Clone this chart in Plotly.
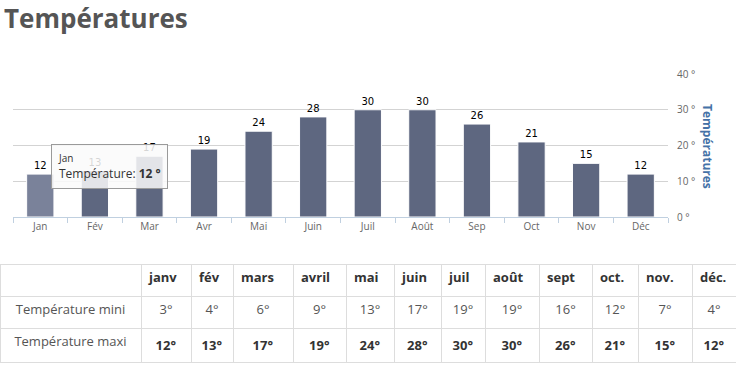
import plotly.graph_objects as go

# ---- data ----
months_axis = ["Jan", "Fév", "Mar", "Avr", "Mai", "Juin", "Juil", "Août", "Sep", "Oct", "Nov", "Déc"]
months_table = ["janv", "fév", "mars", "avril", "mai", "juin", "juil", "août", "sept", "oct.", "nov.", "déc."]
temp_maxi = [12, 13, 17, 19, 24, 28, 30, 30, 26, 21, 15, 12]
temp_mini = [3, 4, 6, 9, 13, 17, 19, 19, 16, 12, 7, 4]
row_labels = ["Température mini", "Température maxi"]
chart_title = "Températures"
axis_title = "Températures"
series_name = "Température"
hover_index = 0

W, H = 736, 366

bar_color = "#5E6780"
hover_color = "#7A829A"
colors = [hover_color if i == hover_index else bar_color for i in range(len(months_axis))]

fig = go.Figure()

fig.add_trace(go.Bar(
    x=months_axis,
    y=temp_maxi,
    name=series_name,
    marker=dict(color=colors, line=dict(color="white", width=1)),
    text=temp_maxi,
    texttemplate="%{text}",
    textposition="outside",
    textfont=dict(family="DejaVu Sans", size=10, color="#000"),
    cliponaxis=False,
    hoverinfo="skip",
    xaxis="x", yaxis="y",
))

# table (non-breaking spaces keep plotly from growing the rows)
header_vals = [""] + months_table
cell_vals = [[lbl.replace(" ", "\u00a0") for lbl in row_labels]] + \
            [[f"{mi}°", f"<b>{ma}°</b>"] for mi, ma in zip(temp_mini, temp_maxi)]
cell_colors = [["#555", "#555"]] + [["#555", "#333"] for _ in months_table]

fig.add_trace(go.Table(
    domain=dict(x=[0, 1], y=[0, 1 - 264 / H]),
    columnwidth=[141, 50, 42, 60, 53, 48, 47, 44, 54, 53, 46, 54, 44],
    header=dict(
        values=header_vals,
        align="left",
        font=dict(family="Open Sans", size=13, color="#333", weight="bold"),
        line=dict(color="#dddddd", width=1),
        fill=dict(color="white"),
        height=32,
    ),
    cells=dict(
        values=cell_vals,
        align="center",
        font=dict(family="Open Sans", size=13, color=cell_colors),
        line=dict(color="#dddddd", width=1),
        fill=dict(color="white"),
        height=32,
    ),
))

# tooltip (hover state on January)
fig.add_annotation(
    xref="x", yref="y",
    x=months_axis[hover_index], y=temp_maxi[hover_index],
    xanchor="left", yanchor="middle",
    xshift=11, yshift=8,
    text=f"<span style='font-size:10px'>{months_axis[hover_index]}</span><br>"
         f"{series_name}: <b>{temp_maxi[hover_index]} °</b>",
    align="left",
    showarrow=False,
    font=dict(family="Open Sans", size=12, color="#333"),
    bgcolor="rgba(250,250,250,0.85)",
    bordercolor="#9a9a9a",
    borderwidth=1,
    borderpad=6,
)

# rotated axis title on the right
fig.add_annotation(
    xref="paper", yref="paper",
    x=708 / W, y=1 - 146 / H,
    text=f"<b>{axis_title}</b>",
    textangle=90,
    showarrow=False,
    font=dict(family="Open Sans", size=12, color="#4572A7"),
    xanchor="center", yanchor="middle",
)

y_top = 40.1
px_per_unit = (217 - 74) / 40

fig.update_layout(
    width=W, height=H,
    margin=dict(l=0, r=0, t=0, b=0, pad=0, autoexpand=False),
    paper_bgcolor="white",
    plot_bgcolor="white",
    showlegend=False,
    bargap=0.5,
    title=dict(
        text=f"<b>{chart_title}</b>",
        font=dict(family="Open Sans", size=26, color="#555"),
        xref="container", yref="container",
        x=4 / W, xanchor="left",
        y=1 - 19 / H, yanchor="middle",
        automargin=False,
    ),
    xaxis=dict(
        domain=[13 / W, 668 / W],
        automargin=False,
        showline=True, linecolor="#C0D0E0", linewidth=1,
        ticks="outside", tickson="boundaries", ticklen=5, tickcolor="#C0D0E0",
        tickfont=dict(family="Open Sans", size=10, color="#666"),
        showgrid=False,
        anchor="y",
        fixedrange=True,
    ),
    yaxis=dict(
        domain=[1 - 217 / H, 1 - (217 - y_top * px_per_unit) / H],
        automargin=False,
        side="right",
        range=[0, y_top], tick0=0, dtick=10,
        ticksuffix=" °",
        showgrid=True, gridcolor="#d3d3d3", gridwidth=1,
        zeroline=False,
        showline=False,
        tickfont=dict(family="Open Sans", size=10, color="#666"),
        ticklabelstandoff=8,
        anchor="x",
        fixedrange=True,
    ),
)

fig.write_html(
    "out.html",
    config={"displayModeBar": False},
    post_script="document.body.style.margin='0';document.body.style.overflow='hidden';",
)
